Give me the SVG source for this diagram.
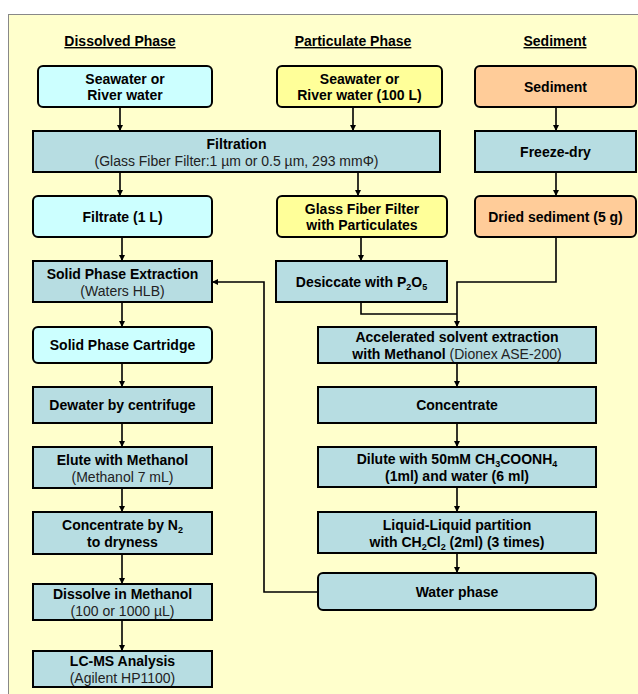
<svg xmlns="http://www.w3.org/2000/svg" width="638" height="694" viewBox="0 0 638 694">
<style>
text{font-family:"Liberation Sans",Arial,sans-serif;font-size:14px;text-anchor:middle;fill:#000}
.b{font-weight:bold}
.r{font-weight:normal;fill:#222}
.h{font-weight:bold;text-decoration:underline}
.sub{font-size:9px}
.box{fill:#B7DDE2;stroke:#000;stroke-width:2}
.cy{fill:#CCFFFF;stroke:#000;stroke-width:2}
.ye{fill:#FFFF99;stroke:#000;stroke-width:2}
.or{fill:#FFCC99;stroke:#000;stroke-width:2}
.c{fill:none;stroke:#000;stroke-width:1.6}
</style>
<defs>
<marker id="ah" viewBox="0 0 8 8" refX="8" refY="4" markerWidth="6" markerHeight="6" markerUnits="userSpaceOnUse" orient="auto"><path d="M0,0 L8,4 L0,8 z" fill="#000"/></marker>
</defs>
<rect x="8.5" y="14.5" width="640" height="690" fill="#FFFFCC" stroke="#888" stroke-width="1"/>
<g id="headers">
<text class="h" x="120" y="46">Dissolved Phase</text>
<text class="h" x="353" y="46">Particulate Phase</text>
<text class="h" x="555" y="46">Sediment</text>
</g>
<g id="connectors">
<line class="c" x1="120" y1="107" x2="120" y2="131" marker-end="url(#ah)"/>
<line class="c" x1="120" y1="172" x2="120" y2="196" marker-end="url(#ah)"/>
<line class="c" x1="122" y1="237" x2="122" y2="261" marker-end="url(#ah)"/>
<line class="c" x1="122" y1="302" x2="122" y2="327" marker-end="url(#ah)"/>
<line class="c" x1="122" y1="363" x2="122" y2="387" marker-end="url(#ah)"/>
<line class="c" x1="122" y1="423" x2="122" y2="447" marker-end="url(#ah)"/>
<line class="c" x1="122" y1="488" x2="122" y2="512" marker-end="url(#ah)"/>
<line class="c" x1="122" y1="554" x2="122" y2="584" marker-end="url(#ah)"/>
<line class="c" x1="122" y1="620" x2="122" y2="651" marker-end="url(#ah)"/>
<line class="c" x1="353" y1="107" x2="353" y2="131" marker-end="url(#ah)"/>
<line class="c" x1="358" y1="172" x2="358" y2="196" marker-end="url(#ah)"/>
<line class="c" x1="361" y1="237" x2="361" y2="261" marker-end="url(#ah)"/>
<line class="c" x1="556" y1="107" x2="556" y2="131" marker-end="url(#ah)"/>
<line class="c" x1="556" y1="172" x2="556" y2="196" marker-end="url(#ah)"/>
<polyline class="c" points="556,237 556,282 457,282 457,327" marker-end="url(#ah)"/>
<polyline class="c" points="361,302 361,314 457,314"/>
<line class="c" x1="457" y1="363" x2="457" y2="387" marker-end="url(#ah)"/>
<line class="c" x1="457" y1="423" x2="457" y2="447" marker-end="url(#ah)"/>
<line class="c" x1="457" y1="487" x2="457" y2="512" marker-end="url(#ah)"/>
<line class="c" x1="457" y1="553" x2="457" y2="573" marker-end="url(#ah)"/>
<polyline class="c" points="318,592 264,592 264,282 212,282" marker-end="url(#ah)"/>
</g>
<g id="n_sea1"><rect class="cy" x="38" y="66" width="174" height="41" rx="5"/>
<text class="b" x="125" y="83.5">Seawater or</text><text class="b" x="125" y="100">River water</text></g>
<g id="n_filtration"><rect class="box" x="33" y="131" width="407" height="41"/>
<text class="b" x="236.5" y="148.5">Filtration</text><text class="r" x="236.5" y="165.5">(Glass Fiber Filter:1 µm or 0.5 µm, 293 mmΦ)</text></g>
<g id="n_filtrate"><rect class="cy" x="33" y="196" width="179" height="41" rx="5"/>
<text class="b" x="122.5" y="221.5">Filtrate (1 L)</text></g>
<g id="n_spe"><rect class="box" x="33" y="261" width="179" height="41"/>
<text class="b" x="122.5" y="279">Solid Phase Extraction</text><text class="r" x="122.5" y="296">(Waters HLB)</text></g>
<g id="n_cartridge"><rect class="cy" x="33" y="327" width="179" height="36" rx="5"/>
<text class="b" x="122.5" y="350">Solid Phase Cartridge</text></g>
<g id="n_dewater"><rect class="box" x="33" y="387" width="179" height="36"/>
<text class="b" x="122.5" y="410">Dewater by centrifuge</text></g>
<g id="n_elute"><rect class="box" x="33" y="447" width="179" height="41"/>
<text class="b" x="122.5" y="464.5">Elute with Methanol</text><text class="r" x="122.5" y="481.5">(Methanol 7 mL)</text></g>
<g id="n_concn2"><rect class="box" x="33" y="512" width="179" height="42"/>
<text class="b" x="122.5" y="530">Concentrate by N<tspan class="sub" dy="3">2</tspan></text><text class="b" x="122.5" y="547">to dryness</text></g>
<g id="n_dissolve"><rect class="box" x="33" y="584" width="179" height="36"/>
<text class="b" x="122.5" y="599">Dissolve in Methanol</text><text class="r" x="122.5" y="616">(100 or 1000 µL)</text></g>
<g id="n_lcms"><rect class="box" x="33" y="651" width="179" height="36"/>
<text class="b" x="122.5" y="666">LC-MS Analysis</text><text class="r" x="122.5" y="683">(Agilent HP1100)</text></g>
<g id="n_psea"><rect class="ye" x="277" y="66" width="165" height="41" rx="5"/>
<text class="b" x="359.5" y="83.5">Seawater or</text><text class="b" x="359.5" y="100">River water (100 L)</text></g>
<g id="n_gff"><rect class="ye" x="277" y="196" width="170" height="41" rx="5"/>
<text class="b" x="362" y="213.5">Glass Fiber Filter</text><text class="b" x="362" y="230">with Particulates</text></g>
<g id="n_desiccate"><rect class="box" x="276" y="261" width="171" height="41"/>
<text class="b" x="361.5" y="286.5">Desiccate with P<tspan class="sub" dy="3">2</tspan><tspan dy="-3">O</tspan><tspan class="sub" dy="3">5</tspan></text></g>
<g id="n_sed"><rect class="or" x="475" y="66" width="161" height="41" rx="5"/>
<text class="b" x="555.5" y="91.5">Sediment</text></g>
<g id="n_freeze"><rect class="box" x="475" y="131" width="161" height="41"/>
<text class="b" x="555.5" y="156.5">Freeze-dry</text></g>
<g id="n_dried"><rect class="or" x="475" y="196" width="161" height="41" rx="5"/>
<text class="b" x="555.5" y="221.5">Dried sediment (5 g)</text></g>
<g id="n_ase"><rect class="box" x="318" y="327" width="278" height="36"/>
<text class="b" x="457" y="342">Accelerated solvent extraction</text><text class="b" x="457" y="359">with Methanol<tspan class="r"> (Dionex ASE-200)</tspan></text></g>
<g id="n_concentrate"><rect class="box" x="318" y="387" width="278" height="36"/>
<text class="b" x="457" y="410">Concentrate</text></g>
<g id="n_dilute"><rect class="box" x="318" y="447" width="278" height="40"/>
<text class="b" x="457" y="464">Dilute with 50mM CH<tspan class="sub" dy="3">3</tspan><tspan dy="-3">COONH</tspan><tspan class="sub" dy="3">4</tspan></text><text class="b" x="457" y="481">(1ml) and water (6 ml)</text></g>
<g id="n_llp"><rect class="box" x="318" y="512" width="278" height="41"/>
<text class="b" x="457" y="530">Liquid-Liquid partition</text><text class="b" x="457" y="547">with CH<tspan class="sub" dy="3">2</tspan><tspan dy="-3">Cl</tspan><tspan class="sub" dy="3">2</tspan><tspan dy="-3"> (2ml) (3 times)</tspan></text></g>
<g id="n_water"><rect class="box" x="318" y="573" width="278" height="37" rx="5"/>
<text class="b" x="457" y="596.5">Water phase</text></g>
</svg>
